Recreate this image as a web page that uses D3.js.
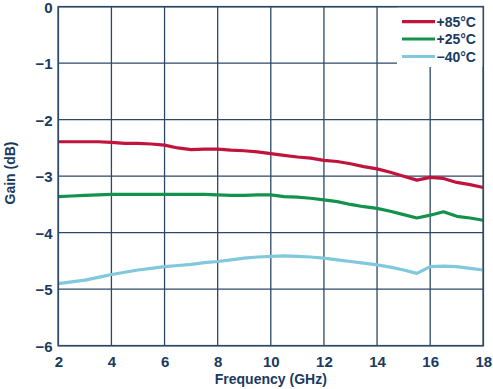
<!DOCTYPE html>
<html><head><meta charset="utf-8">
<script src="https://cdn.jsdelivr.net/npm/d3@7"></script>
<style>body{margin:0;background:#fff}svg{display:block}</style>
</head><body>
<svg id="c" width="493" height="389"></svg>
<script>
const freqs = [2,2.5,3,3.5,4,4.5,5,5.5,6,6.5,7,7.5,8,8.5,9,9.5,10,10.5,11,11.5,12,12.5,13,13.5,14,14.5,15,15.5,16,16.5,17,17.5,18];
const gain85 = [-2.39,-2.39,-2.39,-2.39,-2.40,-2.42,-2.42,-2.43,-2.45,-2.50,-2.53,-2.52,-2.52,-2.54,-2.55,-2.57,-2.60,-2.63,-2.66,-2.68,-2.72,-2.74,-2.78,-2.83,-2.87,-2.93,-3.00,-3.07,-3.02,-3.04,-3.11,-3.15,-3.20];
const gain25 = [-3.36,-3.35,-3.34,-3.33,-3.32,-3.32,-3.32,-3.32,-3.32,-3.32,-3.32,-3.32,-3.33,-3.34,-3.34,-3.33,-3.33,-3.36,-3.37,-3.39,-3.42,-3.45,-3.50,-3.54,-3.57,-3.62,-3.68,-3.74,-3.69,-3.63,-3.71,-3.74,-3.78];
const gainM40 = [-4.90,-4.87,-4.84,-4.79,-4.74,-4.70,-4.66,-4.63,-4.60,-4.58,-4.56,-4.53,-4.51,-4.48,-4.45,-4.43,-4.42,-4.41,-4.42,-4.43,-4.45,-4.48,-4.51,-4.54,-4.57,-4.61,-4.66,-4.72,-4.60,-4.59,-4.60,-4.63,-4.66];
const seriesNames = ["+85°C","+25°C","\u221240°C"];
const seriesColors = ["#c0143c","#12924a","#80c8dc"];
const xTicks = [2,4,6,8,10,12,14,16,18];
const yTicks = [0,-1,-2,-3,-4,-5,-6];

const svg = d3.select("#c");
const L=58.3, R=483.3, T=6.7, B=345.7;
const x = d3.scaleLinear().domain([2,18]).range([L,R]);
const y = d3.scaleLinear().domain([-6,0]).range([B,T]);
const gridCol = "#2c4866", textCol = "#1b3a5e";
const font = "'Liberation Sans', Arial, Helvetica, sans-serif";

const g = svg.append("g");
// grid
g.selectAll(".vx").data(xTicks).join("line")
  .attr("x1",d=>x(d)).attr("x2",d=>x(d)).attr("y1",T).attr("y2",B)
  .attr("stroke",gridCol).attr("stroke-width",1.3);
g.selectAll(".hy").data(yTicks).join("line")
  .attr("y1",d=>y(d)).attr("y2",d=>y(d)).attr("x1",L).attr("x2",R)
  .attr("stroke",gridCol).attr("stroke-width",1.3);

// lines
const series = [gain85, gain25, gainM40];
const line = d3.line().x((d,i)=>x(freqs[i])).y(d=>y(d));
series.forEach((s,k)=>{
  g.append("path").datum(s).attr("d",line).attr("fill","none")
   .attr("stroke",seriesColors[k]).attr("stroke-width",3.2).attr("stroke-linejoin","round");
});

// legend box
g.append("rect").attr("x",397).attr("y",T).attr("width",R-397).attr("height",67-T).attr("fill","#fff");
const legY = [21.7, 39, 56.5];
seriesNames.forEach((n,k)=>{
  g.append("line").attr("x1",402).attr("x2",435).attr("y1",legY[k]).attr("y2",legY[k])
   .attr("stroke",seriesColors[k]).attr("stroke-width",3.2);
  g.append("text").attr("x",436.5).attr("y",legY[k]+5).text(n)
   .attr("font-family",font).attr("font-weight","bold").attr("font-size",14).attr("fill",textCol);
});

// frame
g.append("rect").attr("x",L).attr("y",T).attr("width",R-L).attr("height",B-T)
  .attr("fill","none").attr("stroke",gridCol).attr("stroke-width",1.6);

// axes via d3
const xAxis = d3.axisBottom(x).tickValues(xTicks).tickSize(0).tickPadding(0).tickFormat(d3.format("d"));
const ax = svg.append("g").attr("transform",`translate(0,${B})`).call(xAxis);
ax.select(".domain").remove();
ax.selectAll("text").attr("y",21).attr("dy",0).attr("font-family",font).attr("font-weight","bold").attr("font-size",15).attr("fill",textCol);

const yAxis = d3.axisLeft(y).tickValues(yTicks).tickSize(0).tickPadding(0).tickFormat(d=>d<0?"\u2212"+Math.abs(d):String(d));
const ay = svg.append("g").attr("transform",`translate(52.5,0)`).call(yAxis);
ay.select(".domain").remove();
ay.selectAll("text").attr("x",0).attr("dy","0.36em").attr("font-family",font).attr("font-weight","bold").attr("font-size",15).attr("fill",textCol);

// titles
svg.append("text").attr("x",(L+R)/2).attr("y",384).attr("text-anchor","middle").text("Frequency (GHz)")
  .attr("font-family",font).attr("font-weight","bold").attr("font-size",14).attr("fill",textCol);
svg.append("text").attr("transform","translate(15,173) rotate(-90)").attr("text-anchor","middle").text("Gain (dB)")
  .attr("font-family",font).attr("font-weight","bold").attr("font-size",14).attr("fill",textCol);
</script>
</body></html>
